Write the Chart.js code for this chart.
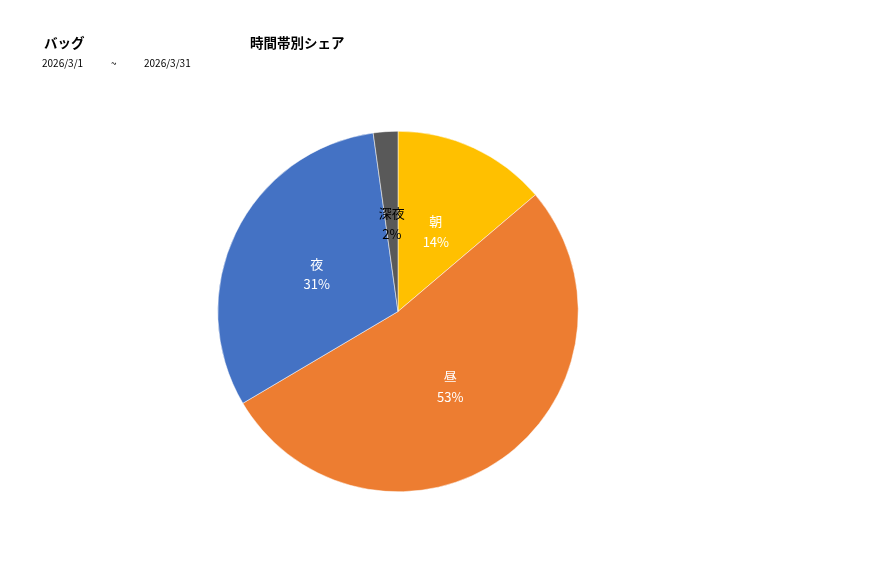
<!DOCTYPE html>
<html>
<head>
<meta charset="utf-8">
<script src="https://cdn.jsdelivr.net/npm/chart.js@4.4.1/dist/chart.umd.min.js"></script>
<style>
  html, body { margin: 0; padding: 0; background: #fff; }
  #wrap { position: relative; width: 877px; height: 578px; font-family: "Noto Sans CJK JP", "Noto Sans", sans-serif; }
  .t { position: absolute; white-space: nowrap; color: #000; }
  .title { font-size: 13.5px; font-weight: bold; top: 32px; }
  .date { font-size: 10px; top: 55px; }
  canvas { position: absolute; left: 0; top: 0; }
</style>
</head>
<body>
<div id="wrap">
  <canvas id="pie" width="877" height="578"></canvas>
  <div class="t title" style="left:44px">バッグ</div>
  <div class="t title" style="left:250px">時間帯別シェア</div>
  <div class="t date" style="left:42px">2026/3/1</div>
  <div class="t date" style="left:111px">~</div>
  <div class="t date" style="left:144px">2026/3/31</div>
</div>
<script>
// time-of-day share (percent), clockwise from 12 o'clock
const labels = ['朝', '昼', '夜', '深夜'];
const shares = [13.8, 52.7, 31.3, 2.2];
const colors = ['#FFC000', '#ED7D31', '#4472C4', '#595959'];
const textColors = ['#fff', '#fff', '#fff', '#000'];

// draw category + rounded percent inside each slice
const sliceLabels = {
    id: 'sliceLabels',
    afterDatasetsDraw: function(chart) {
        const ctx = chart.ctx;
        const meta = chart.getDatasetMeta(0);
        const total = shares.reduce((a, b) => a + b, 0);
        ctx.save();
        ctx.font = '13px "Noto Sans CJK JP", sans-serif';
        ctx.textAlign = 'center';
        ctx.textBaseline = 'middle';
        meta.data.forEach((arc, i) => {
            const mid = (arc.startAngle + arc.endAngle) / 2;
            const r = arc.outerRadius * 0.5;
            const x = arc.x + Math.cos(mid) * r;
            const y = arc.y + Math.sin(mid) * r + 1.5;
            ctx.fillStyle = textColors[i];
            ctx.fillText(labels[i], x, y - 10);
            ctx.fillText(Math.round(shares[i] / total * 100) + '%', x, y + 10.5);
        });
        ctx.restore();
    }
};

new Chart(document.getElementById('pie').getContext('2d'), {
    type: 'pie',
    data: {
        labels: labels,
        datasets: [{
            data: shares,
            backgroundColor: colors,
            borderColor: '#fff',
            borderWidth: 0.5
        }]
    },
    options: {
        responsive: false,
        animation: false,
        layout: { padding: { left: 217, right: 298, top: 131, bottom: 86 } },
        plugins: {
            legend: { display: false },
            tooltip: { enabled: false }
        }
    },
    plugins: [sliceLabels]
});
</script>
</body>
</html>
